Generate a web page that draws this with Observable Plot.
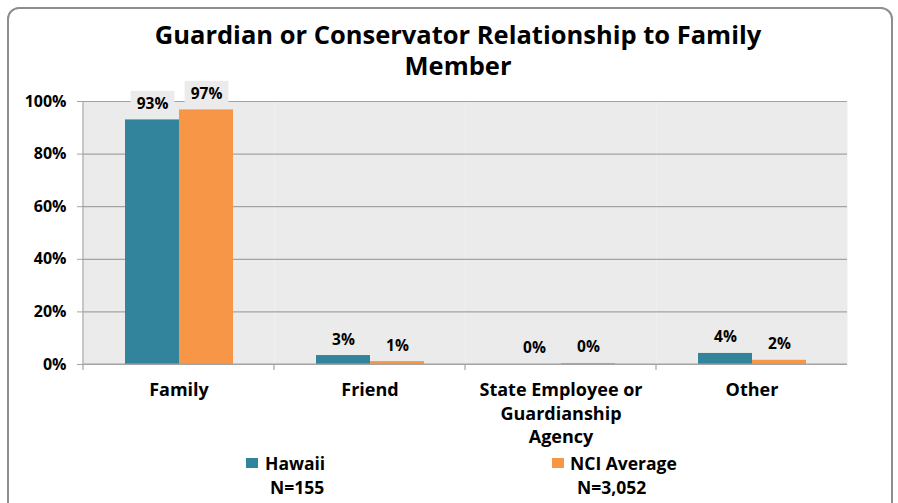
<!DOCTYPE html>
<html><head><meta charset="utf-8">
<script src="https://cdn.jsdelivr.net/npm/d3@7"></script>
<script src="https://cdn.jsdelivr.net/npm/@observablehq/plot@0.6"></script>
<style>
html,body{margin:0;padding:0;}
body{width:898px;height:503px;overflow:hidden;background:#fff;font-family:"Open Sans",sans-serif;position:relative;color:#000;}
#frame{position:absolute;left:7px;top:7px;width:886px;height:530px;border:2px solid #8e8e8e;border-radius:12px;box-sizing:border-box;}
#title{position:absolute;left:18px;top:19px;width:880px;text-align:center;font-weight:700;font-size:25.5px;line-height:31px;}
#chart{position:absolute;left:0;top:78px;}
.leg{position:absolute;font-weight:700;font-size:17.5px;line-height:24px;}
.sw{position:absolute;width:12px;height:10px;}
</style>
</head><body>
<div id="frame"></div>
<div id="title">Guardian or Conservator Relationship to Family<br>Member</div>
<div id="chart"></div>
<div id="legend"></div>
<script>
const categories = ["Family", "Friend", "State Employee or Guardianship Agency", "Other"];
const categoryLabels = ["Family", "Friend", "State Employee or\nGuardianship\nAgency", "Other"];
const series = ["Hawaii", "NCI Average"];
const seriesN = ["N=155", "N=3,052"];
const hawaiiValues = [93, 3.4, 0, 4.2];
const nciValues = [96.8, 1.1, 0.4, 1.6];
const yTicks = [0, 20, 40, 60, 80, 100];
const colors = ["#31849b", "#f79646"];

const data = categories.flatMap((c, i) => [
  {category: c, series: series[0], value: hawaiiValues[i]},
  {category: c, series: series[1], value: nciValues[i]}
]);

const plot = Plot.plot({
  width: 898,
  height: 372,
  marginLeft: 83,
  marginRight: 51,
  marginTop: 23,
  marginBottom: 86,
  style: {fontFamily: "Open Sans", background: "transparent", overflow: "visible"},
  fx: {domain: categories, padding: 0, label: null, axis: null},
  x: {domain: series, paddingInner: 0, paddingOuter: 0.75, axis: null},
  y: {domain: [0, 100], label: null},
  color: {domain: series, range: colors},
  marks: [
    Plot.frame({fill: "#ebebeb", stroke: null}),
    Plot.gridY(yTicks, {stroke: "#a3a3a3", strokeOpacity: 1, strokeWidth: 1.2}),
    Plot.axisY(yTicks, {tickFormat: d => d + "%", fontWeight: "bold", fontSize: 16, tickSize: 6, tickPadding: 11, stroke: "#a3a3a3", fill: "#000", label: null}),
    Plot.barY(data, {fx: "category", x: "series", y: "value", fill: "series"}),
    Plot.text(data, {fx: "category", x: "series", y: "value", text: d => Math.round(d.value) + "%", dy: -16, fontWeight: "bold", fontSize: 15.5, fill: "#010101"}),
    Plot.axisFx({anchor: "bottom", tickSize: 0, tickPadding: 15, tickFormat: d => categoryLabels[categories.indexOf(d)], fontWeight: "bold", fontSize: 18, lineHeight: 1.3, fill: "#000", label: null})
  ]
});
document.getElementById("chart").appendChild(plot);

// decorations using the plot's own scales
const svg = d3.select(plot);
const ys = plot.scale("y");
const fxs = plot.scale("fx");
const y0 = ys.apply(0), y100 = ys.apply(100);
const left = fxs.apply(categories[0]);
const step = fxs.step;
const deco = svg.append("g").attr("stroke", "#a3a3a3").attr("stroke-width", 1.2);
deco.append("line").attr("x1", left).attr("x2", left + step * categories.length).attr("y1", y0).attr("y2", y0);
deco.append("line").attr("x1", left).attr("x2", left).attr("y1", y100).attr("y2", y0 + 6);
categories.forEach((c, i) => {
  if (i === 0) return;
  const x = fxs.apply(c);
  deco.append("line").attr("x1", x).attr("x2", x).attr("y1", y0).attr("y2", y0 + 6);
});
// gray boxes behind data labels
svg.selectAll('g[fill="#010101"] text').each(function () {
  const b = this.getBBox();
  const r = document.createElementNS("http://www.w3.org/2000/svg", "rect");
  r.setAttribute("x", b.x - 6);
  r.setAttribute("y", b.y - 1);
  r.setAttribute("width", b.width + 12);
  r.setAttribute("height", b.height + 2);
  r.setAttribute("fill", "#ebebeb");
  const t = this.getAttribute("transform");
  if (t) r.setAttribute("transform", t);
  this.parentNode.insertBefore(r, this);
});

// legend
const legend = document.getElementById("legend");
const legPos = [{sw: 246, tx: 265, n: 270}, {sw: 552, tx: 570, n: 577}];
series.forEach((s, i) => {
  const sw = document.createElement("div");
  sw.className = "sw";
  sw.style.left = legPos[i].sw + "px";
  sw.style.top = "458px";
  sw.style.background = colors[i];
  legend.appendChild(sw);
  const t = document.createElement("div");
  t.className = "leg";
  t.style.left = legPos[i].tx + "px";
  t.style.top = "451px";
  t.textContent = s;
  legend.appendChild(t);
  const n = document.createElement("div");
  n.className = "leg";
  n.style.left = legPos[i].n + "px";
  n.style.top = "475px";
  n.textContent = seriesN[i];
  legend.appendChild(n);
});
</script>
</body></html>
